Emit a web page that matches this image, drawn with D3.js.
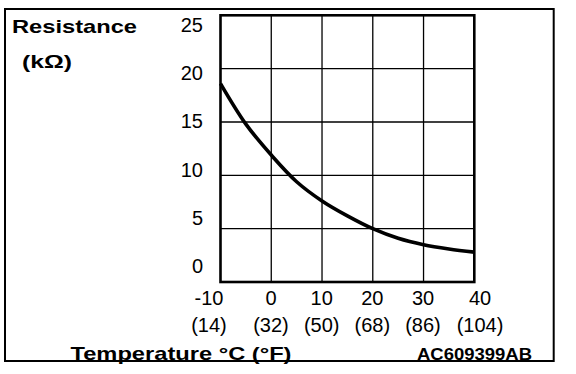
<!DOCTYPE html>
<html>
<head>
<meta charset="utf-8">
<script src="https://cdn.jsdelivr.net/npm/d3@7"></script>
<style>
    body {margin: 0; background: #fff;}
    svg {display: block;}
    .tick-label {font-family: "Liberation Sans", Arial, sans-serif; font-size: 20px; fill: #000;}
    .title {font-family: "Liberation Sans", Arial, sans-serif; font-weight: bold; fill: #000;}
</style>
</head>
<body>
<svg id="chart"></svg>
<script>
// temperature ticks (°C) and their °F captions
const tempC = [-10, 0, 10, 20, 30, 40];
const tempF = ['(14)', '(32)', '(50)', '(68)', '(86)', '(104)'];
// resistance ticks (kΩ)
const resTicks = [0, 5, 10, 15, 20, 25];
// resistance curve
const curveTemp = [-10, -5, 0, 5, 10, 15, 20, 25, 30, 35, 40];
const curveRes = [18.6, 14.8, 11.9, 9.4, 7.6, 6.2, 5.0, 4.1, 3.5, 3.1, 2.8];

let graphicopt = {
        margin: {top: 15.3, right: 101.7, bottom: 92, left: 220.5},
        width: 576,
        height: 374,
        widthG: function(){return this.width-this.margin.left-this.margin.right},
        heightG: function(){return this.height-this.margin.top-this.margin.bottom},
    };

let svg = d3.select('#chart')
    .attr('width', graphicopt.width)
    .attr('height', graphicopt.height);

// outer frame
svg.append('rect')
    .attr('x', 5).attr('y', 9)
    .attr('width', 548.7).attr('height', 352)
    .attr('fill', 'none')
    .attr('stroke', '#000')
    .attr('stroke-width', 2);

let x = d3.scaleLinear()
    .domain([-10, 40])
    .range([0, graphicopt.widthG()]);
let y = d3.scaleLinear()
    .domain([0, 25])
    .range([graphicopt.heightG(), 0]);

// the labels were set by hand in the original, a bit off the grid
let xLabel = d3.scaleLinear()
    .domain([-10, 0, 30, 40])
    .range([209, 271, 423, 480]);
let yLabel = d3.scaleLinear()
    .domain([0, 25])
    .range([273, 32]);

let g = svg.append('g')
    .attr('transform', `translate(${graphicopt.margin.left},${graphicopt.margin.top})`);

// grid
g.append('g').attr('class', 'grid')
    .selectAll('line.v')
    .data(tempC.slice(1, -1))
    .enter().append('line')
    .attr('x1', d => x(d)).attr('x2', d => x(d))
    .attr('y1', 0).attr('y2', graphicopt.heightG())
    .attr('stroke', '#000').attr('stroke-width', 1.3);
g.select('.grid')
    .selectAll('line.h')
    .data(resTicks.slice(1, -1))
    .enter().append('line')
    .attr('x1', 0).attr('x2', graphicopt.widthG())
    .attr('y1', d => y(d)).attr('y2', d => y(d))
    .attr('stroke', '#000').attr('stroke-width', 1.3);

g.append('rect')
    .attr('width', graphicopt.widthG())
    .attr('height', graphicopt.heightG())
    .attr('fill', 'none')
    .attr('stroke', '#000')
    .attr('stroke-width', 2.6);

// curve
let line = d3.line()
    .x((d, i) => x(curveTemp[i]))
    .y(d => y(d))
    .curve(d3.curveCatmullRom);
g.append('path')
    .datum(curveRes)
    .attr('d', line)
    .attr('fill', 'none')
    .attr('stroke', '#000')
    .attr('stroke-width', 3.6);

// y labels
svg.selectAll('.ylab')
    .data(resTicks)
    .enter().append('text')
    .attr('class', 'tick-label ylab')
    .attr('x', 203)
    .attr('y', d => yLabel(d))
    .attr('text-anchor', 'end')
    .text(d => d);

// x labels °C
svg.selectAll('.xlab')
    .data(tempC)
    .enter().append('text')
    .attr('class', 'tick-label xlab')
    .attr('x', d => xLabel(d))
    .attr('y', 305)
    .attr('text-anchor', 'middle')
    .text(d => d);

// x labels °F
svg.selectAll('.flab')
    .data(tempF)
    .enter().append('text')
    .attr('class', 'tick-label flab')
    .attr('x', (d, i) => xLabel(tempC[i]))
    .attr('y', 332)
    .attr('text-anchor', 'middle')
    .text(d => d);

// titles
svg.append('text').attr('class', 'title')
    .attr('x', 12).attr('y', 33)
    .attr('font-size', 18.5)
    .attr('textLength', 125).attr('lengthAdjust', 'spacingAndGlyphs')
    .text('Resistance');
svg.append('text').attr('class', 'title')
    .attr('x', 22).attr('y', 68)
    .attr('font-size', 18.5)
    .attr('textLength', 50).attr('lengthAdjust', 'spacingAndGlyphs')
    .text('(kΩ)');
svg.append('text').attr('class', 'title')
    .attr('x', 70.5).attr('y', 360)
    .attr('font-size', 18.5)
    .attr('textLength', 221).attr('lengthAdjust', 'spacingAndGlyphs')
    .text('Temperature °C (°F)');
svg.append('text').attr('class', 'title')
    .attr('x', 417).attr('y', 360)
    .attr('font-size', 16.5)
    .attr('textLength', 115).attr('lengthAdjust', 'spacingAndGlyphs')
    .text('AC609399AB');
</script>
</body>
</html>
